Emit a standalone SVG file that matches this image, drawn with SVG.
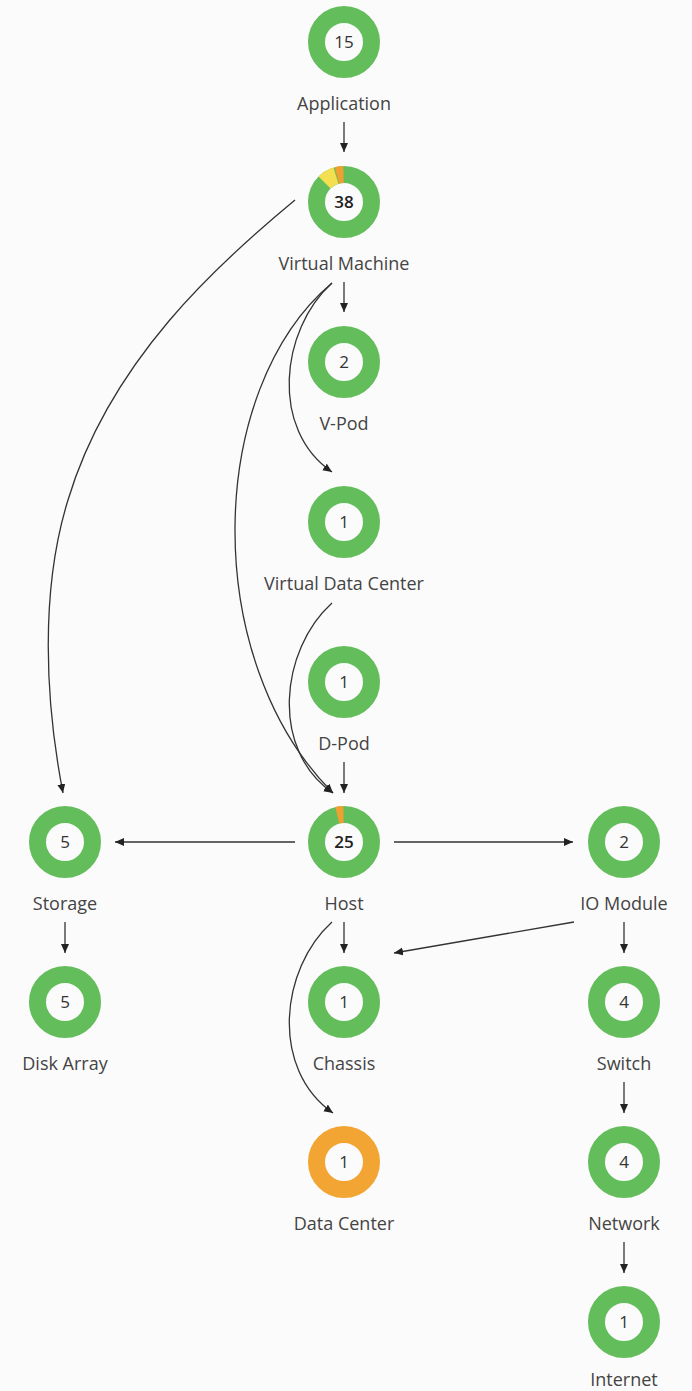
<svg xmlns="http://www.w3.org/2000/svg" width="692" height="1391" viewBox="0 0 692 1391">
<style>
.bg{fill:#fbfbfb}
.ring{fill:none;stroke:#63bd5b;stroke-width:17}
.ring.warn{stroke:#f2a532}
.seg{fill:none;stroke-width:17}
.num{font-family:"Open Sans","Liberation Sans",sans-serif;font-size:17px;fill:#333;text-anchor:middle}
.num.b{font-weight:600;fill:#222}
.lbl{font-family:"Open Sans","Liberation Sans",sans-serif;font-size:18px;fill:#444;text-anchor:middle}
.edge{fill:none;stroke:#333;stroke-width:1.3}
</style>
<defs>
<marker id="arr" markerUnits="userSpaceOnUse" markerWidth="10" markerHeight="9" refX="9" refY="4" orient="auto">
<path d="M0,0 L9,4 L0,8 z" fill="#222"/>
</marker>
</defs>
<rect class="bg" x="0" y="0" width="692" height="1391"/>
<g id="connectors">
<path class="edge" marker-end="url(#arr)" d="M344,122 V152"/>
<path class="edge" marker-end="url(#arr)" d="M344,282 V312"/>
<path class="edge" marker-end="url(#arr)" d="M295,200 C220,262 110,360 68,500 C40,590 45,700 63,793"/>
<path class="edge" marker-end="url(#arr)" d="M332,283 C280,330 270,430 332,472"/>
<path class="edge" marker-end="url(#arr)" d="M332,283 C205,390 200,660 333,793"/>
<path class="edge" marker-end="url(#arr)" d="M332,603 C280,650 270,750 333,793"/>
<path class="edge" marker-end="url(#arr)" d="M344,762 V793"/>
<path class="edge" marker-end="url(#arr)" d="M295,842 H115"/>
<path class="edge" marker-end="url(#arr)" d="M394,842 H573"/>
<path class="edge" marker-end="url(#arr)" d="M344,922 V953"/>
<path class="edge" marker-end="url(#arr)" d="M332,922 C280,969 270,1069 333,1113"/>
<path class="edge" marker-end="url(#arr)" d="M574,922 L394,953"/>
<path class="edge" marker-end="url(#arr)" d="M624,922 V953"/>
<path class="edge" marker-end="url(#arr)" d="M65,922 V953"/>
<path class="edge" marker-end="url(#arr)" d="M624,1082 V1113"/>
<path class="edge" marker-end="url(#arr)" d="M624,1242 V1273"/>
</g>
<g id="application">
<circle class="ring" cx="344" cy="42" r="27.5"/>
<text class="num" x="344" y="48">15</text>
<text class="lbl" x="344" y="110">Application</text>
</g>
<g id="virtual-machine">
<circle class="ring" cx="344" cy="202" r="27.5"/>
<path class="seg" stroke="#f0a030" d="M343.52,174.5 A27.5,27.5 0 0 0 336.88,175.44"/>
<path class="seg" stroke="#f3df4f" d="M335.96,175.7 A27.5,27.5 0 0 0 324.55,182.55"/>
<text class="num b" x="344" y="208">38</text>
<text class="lbl" x="344" y="270">Virtual Machine</text>
</g>
<g id="v-pod">
<circle class="ring" cx="344" cy="362" r="27.5"/>
<text class="num" x="344" y="368">2</text>
<text class="lbl" x="344" y="430">V-Pod</text>
</g>
<g id="virtual-data-center">
<circle class="ring" cx="344" cy="522" r="27.5"/>
<text class="num" x="344" y="528">1</text>
<text class="lbl" x="344" y="590">Virtual Data Center</text>
</g>
<g id="d-pod">
<circle class="ring" cx="344" cy="682" r="27.5"/>
<text class="num" x="344" y="688">1</text>
<text class="lbl" x="344" y="750">D-Pod</text>
</g>
<g id="host">
<circle class="ring" cx="344" cy="842" r="27.5"/>
<path class="seg" stroke="#f0a030" d="M343.52,814.5 A27.5,27.5 0 0 0 337.35,815.32"/>
<text class="num b" x="344" y="848">25</text>
<text class="lbl" x="344" y="910">Host</text>
</g>
<g id="storage">
<circle class="ring" cx="65" cy="842" r="27.5"/>
<text class="num" x="65" y="848">5</text>
<text class="lbl" x="65" y="910">Storage</text>
</g>
<g id="io-module">
<circle class="ring" cx="624" cy="842" r="27.5"/>
<text class="num" x="624" y="848">2</text>
<text class="lbl" x="624" y="910">IO Module</text>
</g>
<g id="disk-array">
<circle class="ring" cx="65" cy="1002" r="27.5"/>
<text class="num" x="65" y="1008">5</text>
<text class="lbl" x="65" y="1070">Disk Array</text>
</g>
<g id="chassis">
<circle class="ring" cx="344" cy="1002" r="27.5"/>
<text class="num" x="344" y="1008">1</text>
<text class="lbl" x="344" y="1070">Chassis</text>
</g>
<g id="switch">
<circle class="ring" cx="624" cy="1002" r="27.5"/>
<text class="num" x="624" y="1008">4</text>
<text class="lbl" x="624" y="1070">Switch</text>
</g>
<g id="data-center">
<circle class="ring warn" cx="344" cy="1162" r="27.5"/>
<text class="num" x="344" y="1168">1</text>
<text class="lbl" x="344" y="1230">Data Center</text>
</g>
<g id="network">
<circle class="ring" cx="624" cy="1162" r="27.5"/>
<text class="num" x="624" y="1168">4</text>
<text class="lbl" x="624" y="1230">Network</text>
</g>
<g id="internet">
<circle class="ring" cx="624" cy="1322" r="27.5"/>
<text class="num" x="624" y="1328">1</text>
<text class="lbl" x="624" y="1386">Internet</text>
</g>
</svg>
